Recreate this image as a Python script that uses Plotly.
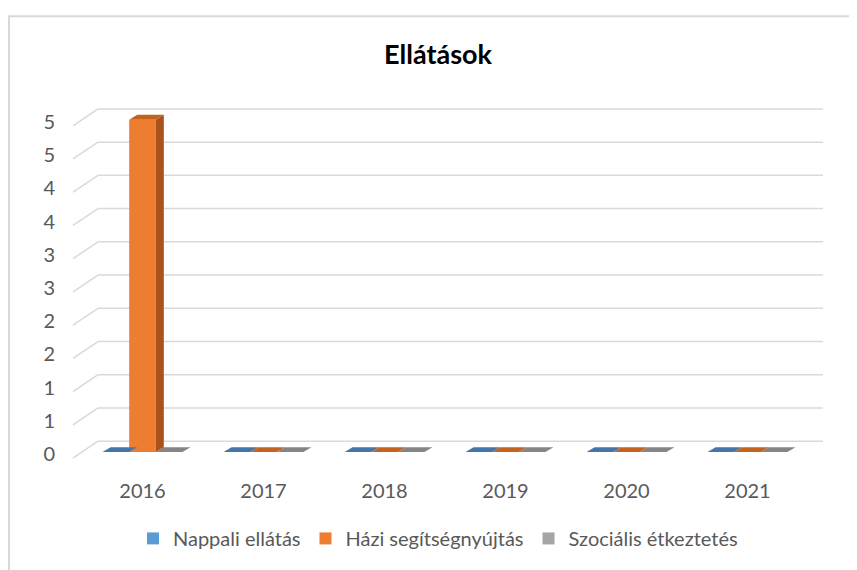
import plotly.graph_objects as go

# ---- data ----
years = ["2016", "2017", "2018", "2019", "2020", "2021"]
series_names = ["Nappali ellátás", "Házi segítségnyújtás", "Szociális étkeztetés"]
nappali = [0, 0, 0, 0, 0, 0]
hazi = [5, 0, 0, 0, 0, 0]
szocialis = [0, 0, 0, 0, 0, 0]
ytick_vals = [0, 0.5, 1, 1.5, 2, 2.5, 3, 3.5, 4, 4.5, 5]
ytick_text = ["0", "1", "1", "2", "2", "3", "3", "4", "4", "5", "5"]

series_values = [nappali, hazi, szocialis]
front_colors = ["#5B9BD5", "#ED7D31", "#A5A5A5"]
top_colors = ["#4676A8", "#C4631F", "#858585"]
side_colors = ["#3F6A95", "#A9531A", "#7A7A7A"]

# ---- geometry ----
# page has an 8px body margin
OFF = 8
W, H = 857 - 2 * OFF, 570 - OFF
PLOT_L, PLOT_R, PLOT_T, PLOT_B = 82, 808, 100, 470   # in window pixels
ML, MT = PLOT_L - OFF, PLOT_T - OFF
MR, MB = W - (PLOT_R - OFF), H - (PLOT_B - OFF)
PW, PH = PLOT_R - PLOT_L, PLOT_B - PLOT_T
YR = [-0.224, 5.298]
XR = [-0.5, 5.5]
upx = PH / (YR[1] - YR[0])
xpx = PW / (XR[1] - XR[0])
BARGAP = 0.34
BW = (1 - BARGAP) / 3

def ypix(v):
    return PLOT_B - (v - YR[0]) * upx

def paper_x(px):
    return (px - PLOT_L) / PW

def paper_y(py):
    return (PLOT_B - py) / PH

xs = list(range(len(years)))

fig = go.Figure()
for name, vals, col in zip(series_names, series_values, front_colors):
    fig.add_trace(go.Bar(x=xs, y=vals, name=name, marker=dict(color=col, line=dict(width=0))))

shapes = []
shapes.append(dict(type="rect", xref="paper", yref="paper",
                   x0=paper_x(9), x1=paper_x(900), y0=paper_y(15.5), y1=paper_y(620),
                   line=dict(color="#D9D9D9", width=2), fillcolor="rgba(0,0,0,0)", layer="below"))

BACK_UP = 11
DIAG_X, DIAG_Y = 25, 17
for v in ytick_vals:
    by = ypix(v) - BACK_UP
    shapes.append(dict(type="line", xref="paper", yref="paper",
                       x0=paper_x(98), x1=paper_x(823), y0=paper_y(by), y1=paper_y(by),
                       line=dict(color="#D9D9D9", width=1.5), layer="below"))
    shapes.append(dict(type="line", xref="paper", yref="paper",
                       x0=paper_x(98 - DIAG_X), x1=paper_x(98), y0=paper_y(by + DIAG_Y), y1=paper_y(by),
                       line=dict(color="#D9D9D9", width=1.5), layer="below"))

DX = 8 / xpx
DY = 5 / upx
for k, vals in enumerate(series_values):
    for i, v in enumerate(vals):
        x0 = i + (k - 1) * BW - BW / 2
        x1 = x0 + BW
        shapes.append(dict(type="path", xref="x", yref="y",
                           path=f"M{x0},{v} L{x1},{v} L{x1+DX},{v+DY} L{x0+DX},{v+DY} Z",
                           fillcolor=top_colors[k], line=dict(width=0), layer="above"))
        if v > 0:
            shapes.append(dict(type="path", xref="x", yref="y",
                               path=f"M{x1},0 L{x1},{v} L{x1+DX},{v+DY} L{x1+DX},{DY} Z",
                               fillcolor=side_colors[k], line=dict(width=0), layer="above"))

FONT = "Lato, 'Open Sans', sans-serif"
fig.update_layout(
    width=W, height=H,
    margin=dict(l=ML, r=MR, t=MT, b=MB),
    paper_bgcolor="white", plot_bgcolor="white",
    barmode="group", bargap=BARGAP, bargroupgap=0,
    title=dict(text="<b>Ellátások</b>", x=(438 - OFF) / W, xanchor="center",
               y=1 - (55 - OFF) / H, yanchor="middle",
               font=dict(family=FONT, size=27, color="#000000")),
    xaxis=dict(range=XR, tickvals=xs, ticktext=years, showgrid=False, zeroline=False,
               showline=False, ticks="", tickfont=dict(family=FONT, size=20, color="#595959"),
               ticklabelstandoff=10, automargin=False),
    yaxis=dict(range=YR, tickvals=ytick_vals, ticktext=ytick_text, showgrid=False, zeroline=False,
               showline=False, ticks="", tickfont=dict(family=FONT, size=20, color="#595959"),
               ticklabelstandoff=26, ticklabelshift=2, automargin=False),
    legend=dict(orientation="h", x=paper_x(438), xanchor="center", y=paper_y(542), yanchor="middle",
                font=dict(family=FONT, size=20, color="#595959"), itemsizing="constant"),
    shapes=shapes,
    showlegend=True,
)

fig.write_html("out.html")
